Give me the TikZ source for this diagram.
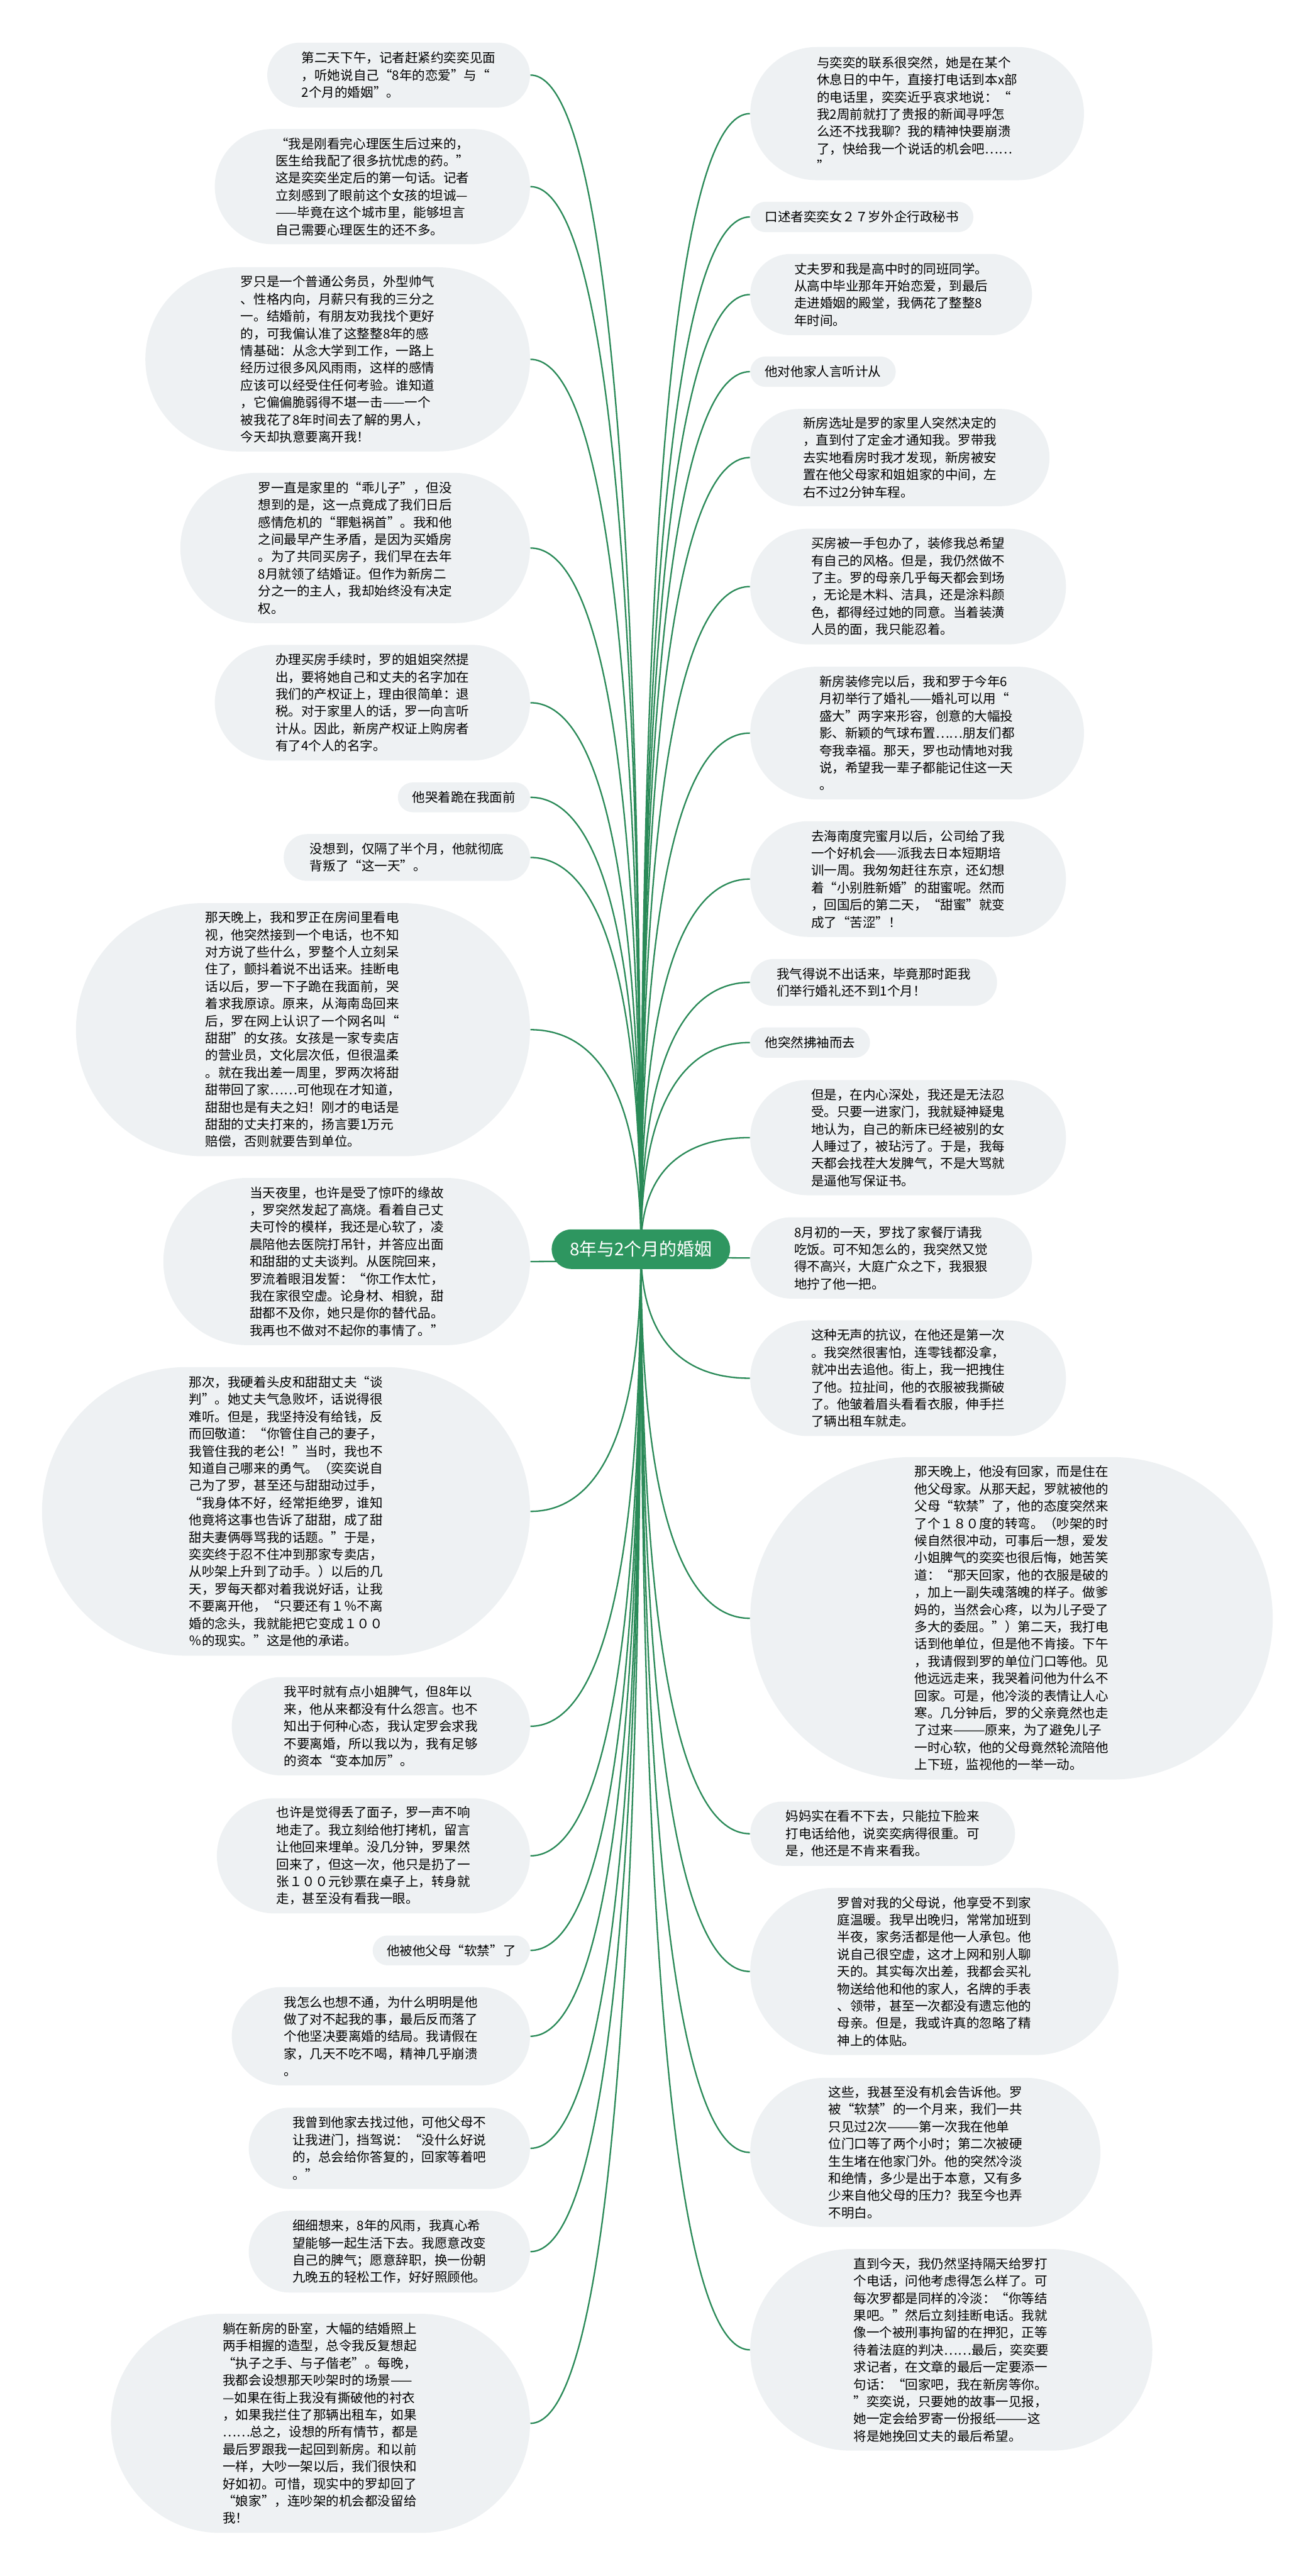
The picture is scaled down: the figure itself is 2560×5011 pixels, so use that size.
\documentclass[tikz,border=0pt]{standalone}
\usepackage{fontspec}
\setmainfont{Noto Sans CJK SC}
\usetikzlibrary{shapes.misc,calc,backgrounds}
\definecolor{leafgray}{RGB}{238,241,243}
\definecolor{rootgreen}{RGB}{46,150,96}
\definecolor{linkgreen}{RGB}{42,138,88}
% curved branch from a leaf anchor into the centre topic
\newcommand{\mmlink}[1]{\draw[link] (#1) .. controls ($(#1)!0.5!(#1 -| main.center)$) and ($(#1 -| main.center)!0.2!(main.center)$) .. (main.center);}
\begin{document}
\begin{tikzpicture}[x=0.01cm, y=-0.01cm,
  leaf/.style={rounded rectangle, fill=leafgray, align=left, inner sep=0pt,
    font=\fontsize{7.15}{9.53}\selectfont},
  mainbox/.style={rounded rectangle, fill=rootgreen, text=white, inner sep=0pt,
    font=\fontsize{9.7}{11}\selectfont},
  link/.style={draw=linkgreen, line width=0.8pt}]
  \useasboundingbox (0,0) rectangle (2560,5011);

  \node[mainbox, minimum width=3.47cm, minimum height=0.77cm] (main) at (1247,2430) {8年与2个月的婚姻};

  % left side
  \node[leaf, anchor=east, minimum width=5.11cm, minimum height=1.26cm] (l1) at (1032,146) {第二天下午，记者赶紧约奕奕见面\\，听她说自己“8年的恋爱”与“\\2个月的婚姻”。};
  \node[leaf, anchor=east, minimum width=6.13cm, minimum height=2.24cm] (l2) at (1032,363) {“我是刚看完心理医生后过来的，\\医生给我配了很多抗忧虑的药。”\\这是奕奕坐定后的第一句话。记者\\立刻感到了眼前这个女孩的坦诚—\\——毕竟在这个城市里，能够坦言\\自己需要心理医生的还不多。};
  \node[leaf, anchor=east, minimum width=7.48cm, minimum height=3.58cm] (l3) at (1032,699) {罗只是一个普通公务员，外型帅气\\、性格内向，月薪只有我的三分之\\一。结婚前，有朋友劝我找个更好\\的，可我偏认准了这整整8年的感\\情基础：从念大学到工作，一路上\\经历过很多风风雨雨，这样的感情\\应该可以经受住任何考验。谁知道\\，它偏偏脆弱得不堪一击——一个\\被我花了8年时间去了解的男人，\\今天却执意要离开我！};
  \node[leaf, anchor=east, minimum width=6.80cm, minimum height=2.92cm] (l4) at (1032,1066) {罗一直是家里的“乖儿子”，但没\\想到的是，这一点竟成了我们日后\\感情危机的“罪魁祸首”。我和他\\之间最早产生矛盾，是因为买婚房\\。为了共同买房子，我们早在去年\\8月就领了结婚证。但作为新房二\\分之一的主人，我却始终没有决定\\权。};
  \node[leaf, anchor=east, minimum width=6.13cm, minimum height=2.25cm] (l5) at (1032,1367) {办理买房手续时，罗的姐姐突然提\\出，要将她自己和丈夫的名字加在\\我们的产权证上，理由很简单：退\\税。对于家里人的话，罗一向言听\\计从。因此，新房产权证上购房者\\有了4个人的名字。};
  \node[leaf, anchor=east, minimum width=2.57cm, minimum height=0.58cm] (l6) at (1032,1551) {他哭着跪在我面前};
  \node[leaf, anchor=east, minimum width=4.79cm, minimum height=0.91cm] (l7) at (1032,1668) {没想到，仅隔了半个月，他就彻底\\背叛了“这一天”。};
  \node[leaf, anchor=east, minimum width=8.83cm, minimum height=4.92cm] (l8) at (1032,2003) {那天晚上，我和罗正在房间里看电\\视，他突然接到一个电话，也不知\\对方说了些什么，罗整个人立刻呆\\住了，颤抖着说不出话来。挂断电\\话以后，罗一下子跪在我面前，哭\\着求我原谅。原来，从海南岛回来\\后，罗在网上认识了一个网名叫“\\甜甜”的女孩。女孩是一家专卖店\\的营业员，文化层次低，但很温柔\\。就在我出差一周里，罗两次将甜\\甜带回了家……可他现在才知道，\\甜甜也是有夫之妇！刚才的电话是\\甜甜的丈夫打来的，扬言要1万元\\赔偿，否则就要告到单位。};
  \node[leaf, anchor=east, minimum width=7.13cm, minimum height=3.25cm] (l9) at (1032,2454) {当天夜里，也许是受了惊吓的缘故\\，罗突然发起了高烧。看着自己丈\\夫可怜的模样，我还是心软了，凌\\晨陪他去医院打吊针，并答应出面\\和甜甜的丈夫谈判。从医院回来，\\罗流着眼泪发誓：“你工作太忙，\\我在家很空虚。论身材、相貌，甜\\甜都不及你，她只是你的替代品。\\我再也不做对不起你的事情了。”};
  \node[leaf, anchor=east, minimum width=9.49cm, minimum height=5.61cm] (l10) at (1032,2940) {那次，我硬着头皮和甜甜丈夫“谈\\判”。她丈夫气急败坏，话说得很\\难听。但是，我坚持没有给钱，反\\而回敬道：“你管住自己的妻子，\\我管住我的老公！”当时，我也不\\知道自己哪来的勇气。（奕奕说自\\己为了罗，甚至还与甜甜动过手，\\“我身体不好，经常拒绝罗，谁知\\他竟将这事也告诉了甜甜，成了甜\\甜夫妻俩辱骂我的话题。”于是，\\奕奕终于忍不住冲到那家专卖店，\\从吵架上升到了动手。）以后的几\\天，罗每天都对着我说好话，让我\\不要离开他，“只要还有１％不离\\婚的念头，我就能把它变成１００\\％的现实。”这是他的承诺。};
  \node[leaf, anchor=east, minimum width=5.80cm, minimum height=1.91cm] (l11) at (1032,3358) {我平时就有点小姐脾气，但8年以\\来，他从来都没有什么怨言。也不\\知出于何种心态，我认定罗会求我\\不要离婚，所以我以为，我有足够\\的资本“变本加厉”。};
  \node[leaf, anchor=east, minimum width=6.09cm, minimum height=2.24cm] (l12) at (1032,3610) {也许是觉得丢了面子，罗一声不响\\地走了。我立刻给他打拷机，留言\\让他回来埋单。没几分钟，罗果然\\回来了，但这一次，他只是扔了一\\张１００元钞票在桌子上，转身就\\走，甚至没有看我一眼。};
  \node[leaf, anchor=east, minimum width=3.06cm, minimum height=0.58cm] (l13) at (1032,3794) {他被他父母“软禁”了};
  \node[leaf, anchor=east, minimum width=5.80cm, minimum height=1.91cm] (l14) at (1032,3961) {我怎么也想不通，为什么明明是他\\做了对不起我的事，最后反而落了\\个他坚决要离婚的结局。我请假在\\家，几天不吃不喝，精神几乎崩溃\\。};
  \node[leaf, anchor=east, minimum width=5.47cm, minimum height=1.58cm] (l15) at (1032,4179) {我曾到他家去找过他，可他父母不\\让我进门，挡驾说：“没什么好说\\的，总会给你答复的，回家等着吧\\。”};
  \node[leaf, anchor=east, minimum width=5.47cm, minimum height=1.59cm] (l16) at (1032,4380) {细细想来，8年的风雨，我真心希\\望能够一起生活下去。我愿意改变\\自己的脾气；愿意辞职，换一份朝\\九晚五的轻松工作，好好照顾他。};
  \node[leaf, anchor=east, minimum width=8.15cm, minimum height=4.26cm] (l17) at (1032,4714) {躺在新房的卧室，大幅的结婚照上\\两手相握的造型，总令我反复想起\\“执子之手、与子偕老”。每晚，\\我都会设想那天吵架时的场景——\\—如果在街上我没有撕破他的衬衣\\，如果我拦住了那辆出租车，如果\\……总之，设想的所有情节，都是\\最后罗跟我一起回到新房。和以前\\一样，大吵一架以后，我们很快和\\好如初。可惜，现实中的罗却回了\\“娘家”，连吵架的机会都没留给\\我！};

  % right side
  \node[leaf, anchor=west, minimum width=6.49cm, minimum height=2.59cm] (r1) at (1459,221) {与奕奕的联系很突然，她是在某个\\休息日的中午，直接打电话到本x部\\的电话里，奕奕近乎哀求地说：“\\我2周前就打了贵报的新闻寻呼怎\\么还不找我聊？我的精神快要崩溃\\了，快给我一个说话的机会吧……\\”};
  \node[leaf, anchor=west, minimum width=4.34cm, minimum height=0.59cm] (r2) at (1459,422) {口述者奕奕女２７岁外企行政秘书};
  \node[leaf, anchor=west, minimum width=5.48cm, minimum height=1.58cm] (r3) at (1459,573) {丈夫罗和我是高中时的同班同学。\\从高中毕业那年开始恋爱，到最后\\走进婚姻的殿堂，我俩花了整整8\\年时间。};
  \node[leaf, anchor=west, minimum width=2.83cm, minimum height=0.59cm] (r4) at (1459,723) {他对他家人言听计从};
  \node[leaf, anchor=west, minimum width=5.82cm, minimum height=1.89cm] (r5) at (1459,890) {新房选址是罗的家里人突然决定的\\，直到付了定金才通知我。罗带我\\去实地看房时我才发现，新房被安\\置在他父母家和姐姐家的中间，左\\右不过2分钟车程。};
  \node[leaf, anchor=west, minimum width=6.14cm, minimum height=2.25cm] (r6) at (1459,1141) {买房被一手包办了，装修我总希望\\有自己的风格。但是，我仍然做不\\了主。罗的母亲几乎每天都会到场\\，无论是木料、洁具，还是涂料颜\\色，都得经过她的同意。当着装潢\\人员的面，我只能忍着。};
  \node[leaf, anchor=west, minimum width=6.49cm, minimum height=2.58cm] (r7) at (1459,1426) {新房装修完以后，我和罗于今年6\\月初举行了婚礼——婚礼可以用“\\盛大”两字来形容，创意的大幅投\\影、新颖的气球布置……朋友们都\\夸我幸福。那天，罗也动情地对我\\说，希望我一辈子都能记住这一天\\。};
  \node[leaf, anchor=west, minimum width=6.14cm, minimum height=2.25cm] (r8) at (1459,1710) {去海南度完蜜月以后，公司给了我\\一个好机会——派我去日本短期培\\训一周。我匆匆赶往东京，还幻想\\着“小别胜新婚”的甜蜜呢。然而\\，回国后的第二天，“甜蜜”就变\\成了“苦涩”！};
  \node[leaf, anchor=west, minimum width=4.80cm, minimum height=0.91cm] (r9) at (1459,1911) {我气得说不出话来，毕竟那时距我\\们举行婚礼还不到1个月！};
  \node[leaf, anchor=west, minimum width=2.33cm, minimum height=0.59cm] (r10) at (1459,2028) {他突然拂袖而去};
  \node[leaf, anchor=west, minimum width=6.14cm, minimum height=2.24cm] (r11) at (1459,2213) {但是，在内心深处，我还是无法忍\\受。只要一进家门，我就疑神疑鬼\\地认为，自己的新床已经被别的女\\人睡过了，被玷污了。于是，我每\\天都会找茬大发脾气，不是大骂就\\是逼他写保证书。};
  \node[leaf, anchor=west, minimum width=5.48cm, minimum height=1.58cm] (r12) at (1459,2447) {8月初的一天，罗找了家餐厅请我\\吃饭。可不知怎么的，我突然又觉\\得不高兴，大庭广众之下，我狠狠\\地拧了他一把。};
  \node[leaf, anchor=west, minimum width=6.14cm, minimum height=2.25cm] (r13) at (1459,2681) {这种无声的抗议，在他还是第一次\\。我突然很害怕，连零钱都没拿，\\就冲出去追他。街上，我一把拽住\\了他。拉扯间，他的衣服被我撕破\\了。他皱着眉头看看衣服，伸手拦\\了辆出租车就走。};
  \node[leaf, anchor=west, minimum width=10.16cm, minimum height=6.27cm] (r14) at (1459,3148) {那天晚上，他没有回家，而是住在\\他父母家。从那天起，罗就被他的\\父母“软禁”了，他的态度突然来\\了个１８０度的转弯。（吵架的时\\候自然很冲动，可事后一想，爱发\\小姐脾气的奕奕也很后悔，她苦笑\\道：“那天回家，他的衣服是破的\\，加上一副失魂落魄的样子。做爹\\妈的，当然会心疼，以为儿子受了\\多大的委屈。”）第二天，我打电\\话到他单位，但是他不肯接。下午\\，我请假到罗的单位门口等他。见\\他远远走来，我哭着问他为什么不\\回家。可是，他冷淡的表情让人心\\寒。几分钟后，罗的父亲竟然也走\\了过来———原来，为了避免儿子\\一时心软，他的父母竟然轮流陪他\\上下班，监视他的一举一动。};
  \node[leaf, anchor=west, minimum width=5.15cm, minimum height=1.25cm] (r15) at (1459,3567) {妈妈实在看不下去，只能拉下脸来\\打电话给他，说奕奕病得很重。可\\是，他还是不肯来看我。};
  \node[leaf, anchor=west, minimum width=7.16cm, minimum height=3.25cm] (r16) at (1459,3835) {罗曾对我的父母说，他享受不到家\\庭温暖。我早出晚归，常常加班到\\半夜，家务活都是他一人承包。他\\说自己很空虚，这才上网和别人聊\\天的。其实每次出差，我都会买礼\\物送给他和他的家人，名牌的手表\\、领带，甚至一次都没有遗忘他的\\母亲。但是，我或许真的忽略了精\\神上的体贴。};
  \node[leaf, anchor=west, minimum width=6.81cm, minimum height=2.90cm] (r17) at (1459,4187) {这些，我甚至没有机会告诉他。罗\\被“软禁”的一个月来，我们一共\\只见过2次———第一次我在他单\\位门口等了两个小时；第二次被硬\\生生堵在他家门外。他的突然冷淡\\和绝情，多少是出于本意，又有多\\少来自他父母的压力？我至今也弄\\不明白。};
  \node[leaf, anchor=west, minimum width=7.82cm, minimum height=3.92cm] (r18) at (1459,4571) {直到今天，我仍然坚持隔天给罗打\\个电话，问他考虑得怎么样了。可\\每次罗都是同样的冷淡：“你等结\\果吧。”然后立刻挂断电话。我就\\像一个被刑事拘留的在押犯，正等\\待着法庭的判决……最后，奕奕要\\求记者，在文章的最后一定要添一\\句话：“回家吧，我在新房等你。\\”奕奕说，只要她的故事一见报，\\她一定会给罗寄一份报纸———这\\将是她挽回丈夫的最后希望。};

  % branches
  \begin{scope}[on background layer]
    \mmlink{l1.east}
    \mmlink{l2.east}
    \mmlink{l3.east}
    \mmlink{l4.east}
    \mmlink{l5.east}
    \mmlink{l6.east}
    \mmlink{l7.east}
    \mmlink{l8.east}
    \mmlink{l9.east}
    \mmlink{l10.east}
    \mmlink{l11.east}
    \mmlink{l12.east}
    \mmlink{l13.east}
    \mmlink{l14.east}
    \mmlink{l15.east}
    \mmlink{l16.east}
    \mmlink{l17.east}
    \mmlink{r1.west}
    \mmlink{r2.west}
    \mmlink{r3.west}
    \mmlink{r4.west}
    \mmlink{r5.west}
    \mmlink{r6.west}
    \mmlink{r7.west}
    \mmlink{r8.west}
    \mmlink{r9.west}
    \mmlink{r10.west}
    \mmlink{r11.west}
    \mmlink{r12.west}
    \mmlink{r13.west}
    \mmlink{r14.west}
    \mmlink{r15.west}
    \mmlink{r16.west}
    \mmlink{r17.west}
    \mmlink{r18.west}
  \end{scope}
\end{tikzpicture}
\end{document}
